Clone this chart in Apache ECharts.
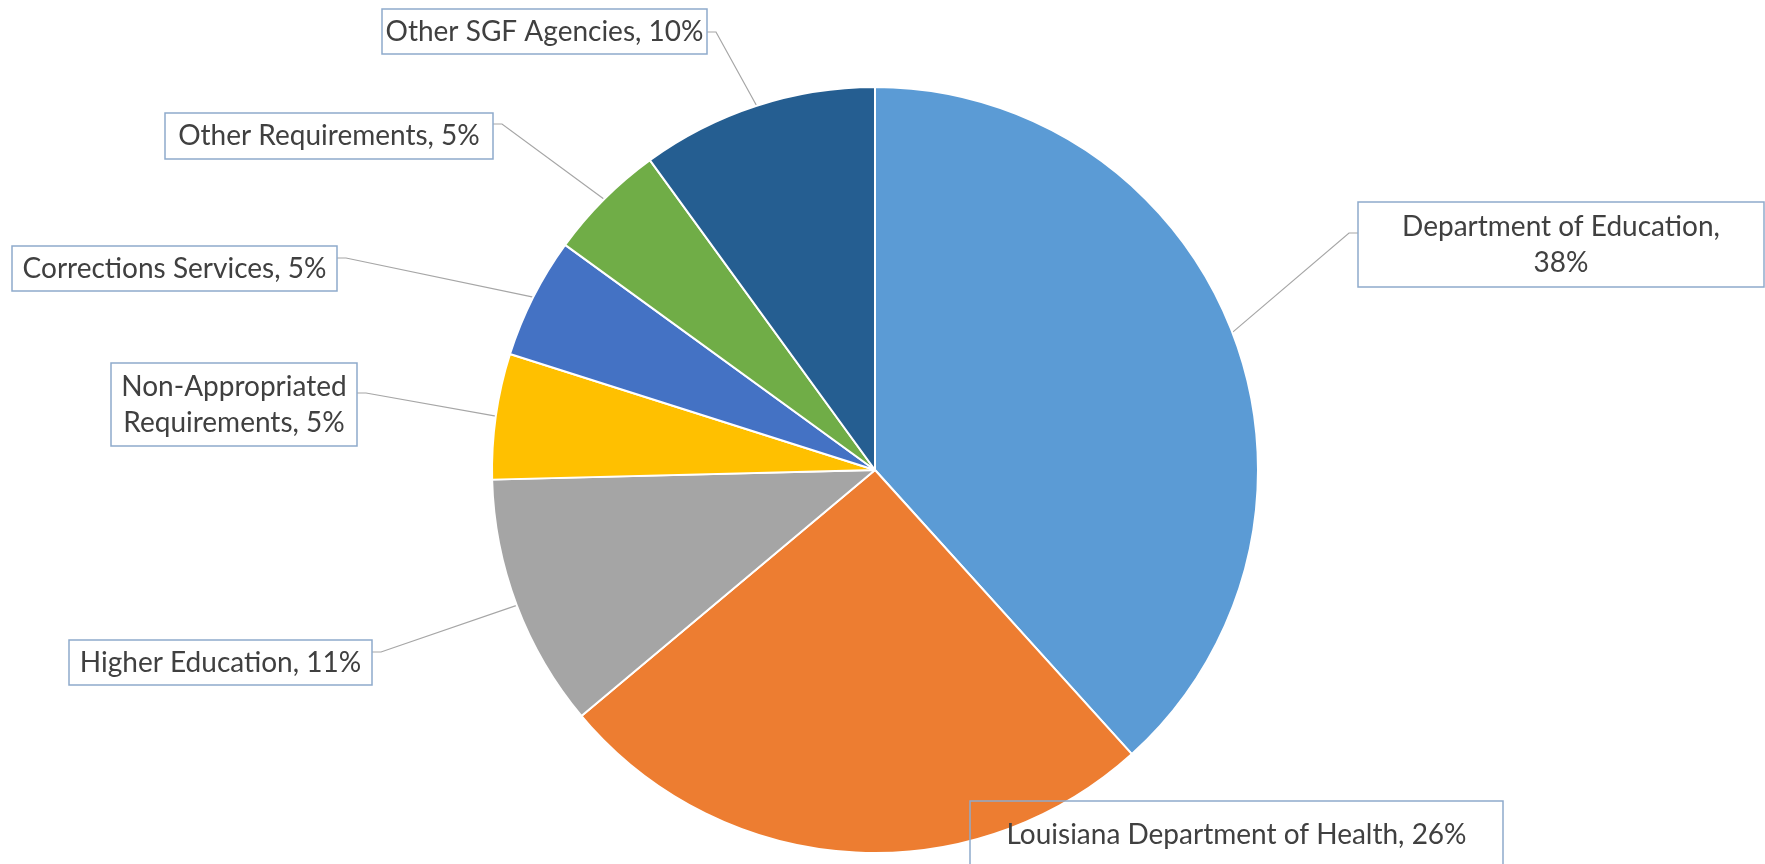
<!DOCTYPE html>
<html>
<head>
<meta charset="utf-8">
<style>
  html, body { margin: 0; padding: 0; background: #fff; }
  #chart { width: 1765px; height: 864px; }
</style>
<script src="https://cdn.jsdelivr.net/npm/echarts@6/dist/echarts.min.js"></script>
</head>
<body>
<div id="chart"></div>
<script>
const categories = [
  'Department of Education',
  'Louisiana Department of Health',
  'Higher Education',
  'Non-Appropriated Requirements',
  'Corrections Services',
  'Other Requirements',
  'Other SGF Agencies'
];
const shares = [38.3, 25.6, 10.7, 5.3, 5.1, 5.0, 10.0];
const colors = ['#5B9BD5', '#ED7D31', '#A5A5A5', '#FFC000', '#4472C4', '#70AD47', '#255E91'];

// callout boxes: left, top, width, height, y where the leader line meets the box
const boxes = [
  [1358, 202, 406, 85, 233],
  [970, 801, 533, 68, null],
  [69, 640, 303, 45, 652],
  [111, 363, 246, 83, 393],
  [12, 246, 325, 45, 258],
  [165, 113, 328, 46, 124],
  [382, 9, 325, 45, 32]
];

const pieCenter = [875, 470];
const lineH = 36;

function labelText(name, pct) {
  if (name === 'Department of Education') return name + ',\n' + pct + '%';
  if (name === 'Non-Appropriated Requirements') return 'Non-Appropriated\nRequirements, ' + pct + '%';
  return name + ', ' + pct + '%';
}

const data = categories.map((name, i) => {
  const b = boxes[i];
  const lines = labelText(name, 0).split('\n').length;
  const pv = (b[3] - lines * lineH) / 2;
  return {
    name: name,
    value: shares[i],
    itemStyle: { color: colors[i] },
    label: { width: b[2], padding: [pv, 0] },
    labelLine: { show: b[4] != null }
  };
});

const chart = echarts.init(document.getElementById('chart'), null, { renderer: 'canvas' });

chart.setOption({
  animation: false,
  backgroundColor: '#fff',
  series: [{
    type: 'pie',
    center: pieCenter,
    radius: 383,
    startAngle: 90,
    clockwise: true,
    avoidLabelOverlap: false,
    percentPrecision: 0,
    itemStyle: { borderColor: '#fff', borderWidth: 2 },
    label: {
      show: true,
      position: 'outside',
      formatter: (p) => labelText(p.name, Math.round(p.percent)),
      fontFamily: 'Lato',
      fontSize: 28,
      lineHeight: lineH,
      color: '#404040',
      align: 'center',
      overflow: 'none',
      borderColor: '#8eaacc',
      borderWidth: 1.5
    },
    labelLine: {
      lineStyle: { color: '#a6a6a6', width: 1.2 }
    },
    labelLayout: function (params) {
      const b = boxes[params.dataIndex];
      const cx = b[0] + b[2] / 2;
      const cy = b[1] + b[3] / 2;
      const res = { x: cx, y: cy, align: 'center', verticalAlign: 'middle' };
      if (b[4] != null && params.labelLinePoints) {
        const p0 = params.labelLinePoints[0];
        const onLeft = cx < pieCenter[0];
        const ax = onLeft ? b[0] + b[2] : b[0];
        const ex = onLeft ? ax + 9 : ax - 9;
        res.labelLinePoints = [p0, [ex, b[4]], [ax, b[4]]];
      }
      return res;
    },
    emphasis: { disabled: true },
    data: data
  }]
});

window.addEventListener('resize', () => chart.resize());
</script>
</body>
</html>
